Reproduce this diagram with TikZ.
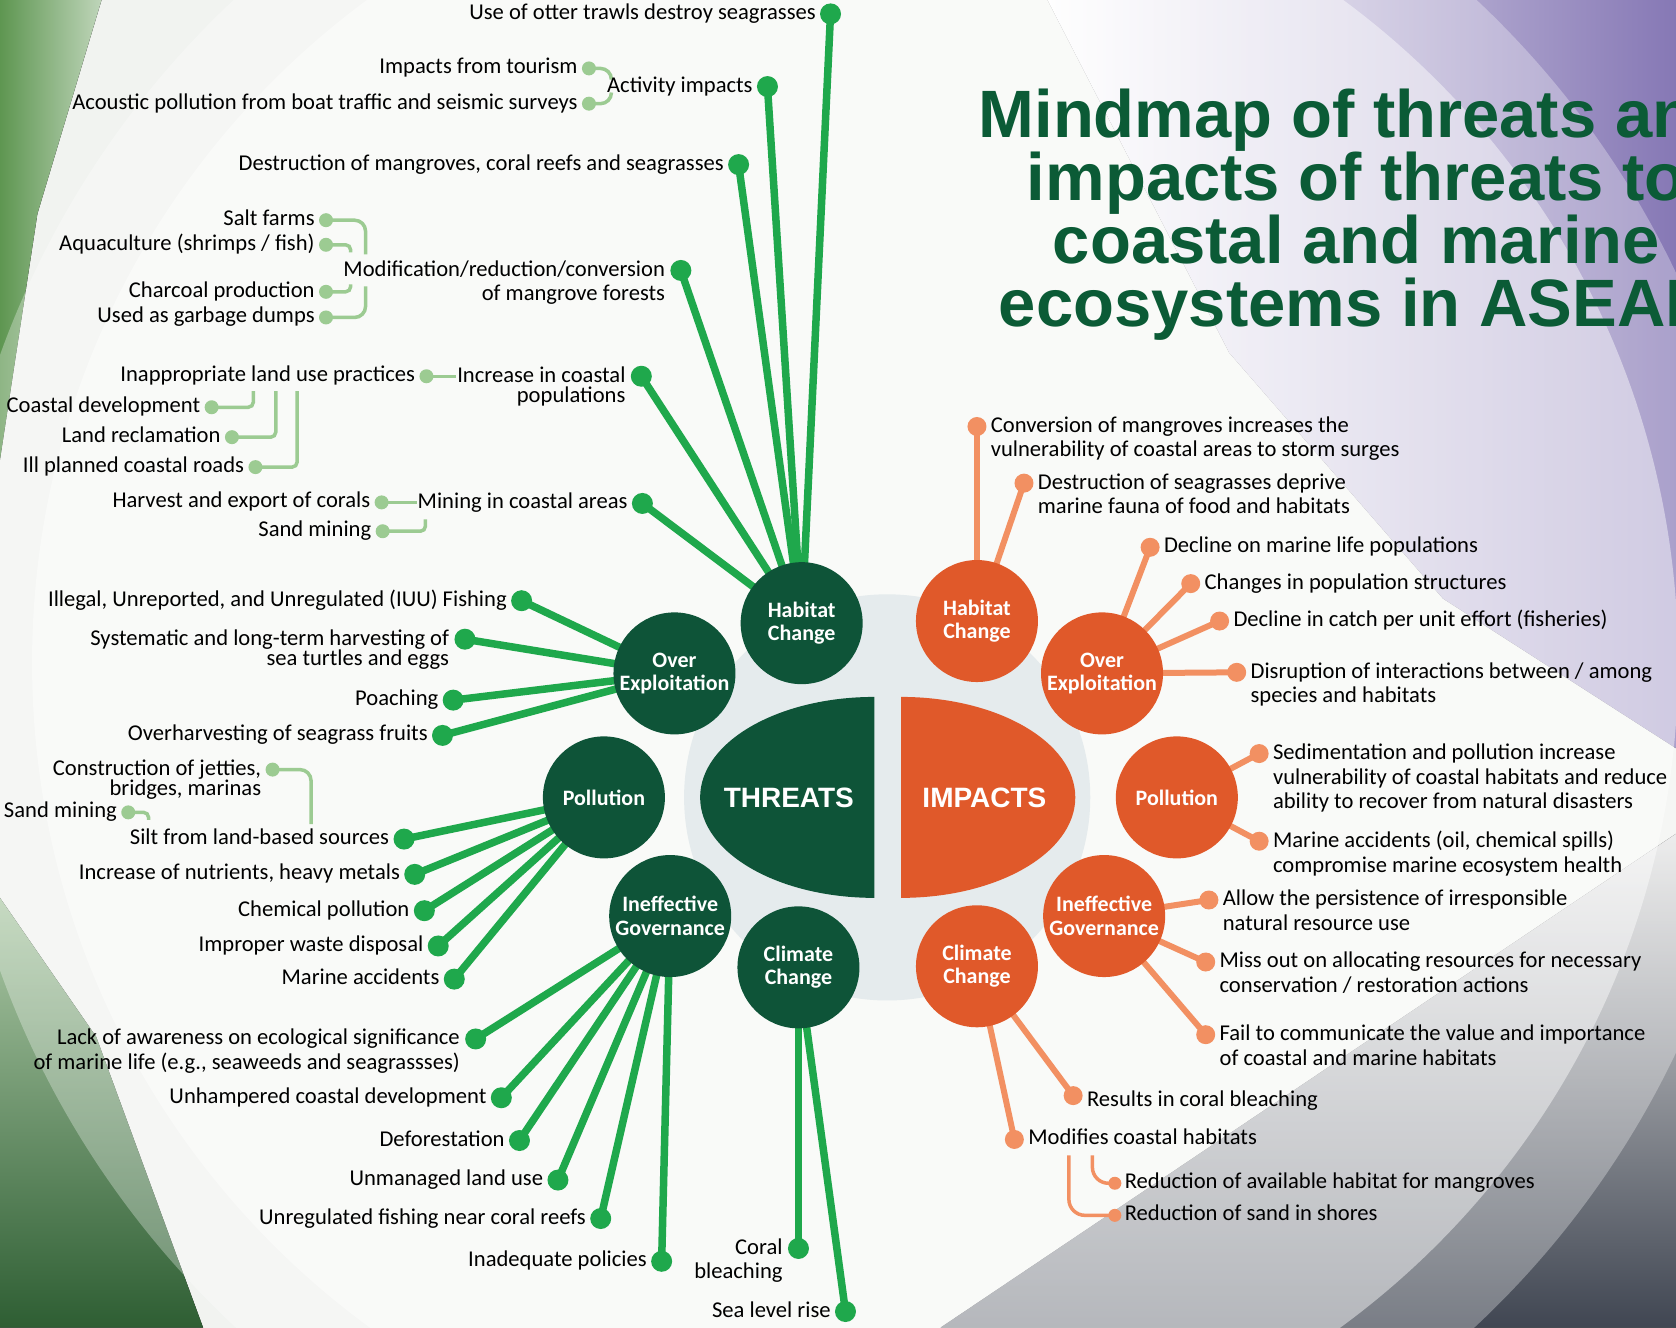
\documentclass[tikz,border=0pt]{standalone}
\usepackage{fontspec}
\setmainfont{Carlito}
\newfontfamily\headfont{Liberation Sans}
\usetikzlibrary{positioning,calc}

\definecolor{tgreen}{HTML}{0E5438}
\definecolor{lgreen}{HTML}{1FA84C}
\definecolor{pgreen}{HTML}{9CCB92}
\definecolor{iorange}{HTML}{E0592A}
\definecolor{lorange}{HTML}{F29062}
\definecolor{titlegreen}{HTML}{0B5B36}
\definecolor{paperbase}{HTML}{F1F3F0}
\definecolor{discgray}{HTML}{E5EBED}
\definecolor{lilac}{HTML}{8678B5}
\definecolor{slate}{HTML}{404652}
\definecolor{moss}{HTML}{2E5E33}
\definecolor{fern}{HTML}{5E9651}

\pgfdeclarelayer{paper}
\pgfdeclarelayer{links}
\pgfsetlayers{paper,links,main}

\tikzset{
  hub/.style={circle, fill=tgreen, text=white, align=center, minimum size=122pt, inner sep=0pt,
    font=\bfseries\fontsize{22}{23.5}\selectfont},
  ihub/.style={hub, fill=iorange},
  core/.style={text=white, font=\headfont\bfseries\fontsize{28}{30}\selectfont},
  dot/.style={circle, fill=lgreen, minimum size=21pt, inner sep=0pt},
  idot/.style={circle, fill=lorange, minimum size=19pt, inner sep=0pt},
  sdot/.style={circle, fill=pgreen, minimum size=14pt, inner sep=0pt},
  isdot/.style={circle, fill=lorange, minimum size=13pt, inner sep=0pt},
  branch/.style={lgreen, line width=7.5pt},
  ibranch/.style={lorange, line width=6pt},
  twig/.style={pgreen, line width=3.5pt, rounded corners=11pt},
  hook/.style={pgreen, line width=3.5pt, rounded corners=5pt},
  itwig/.style={lorange, line width=3.5pt, rounded corners=16pt},
  lbl/.style={font=\fontsize{22.6}{24.6}\selectfont, inner sep=1pt, text height=15pt, text depth=4pt},
  lbll/.style={font=\fontsize{22.6}{24.6}\selectfont, inner sep=1pt, align=right, anchor=north east, yshift=11pt},
  lblr/.style={font=\fontsize{22.6}{24.6}\selectfont, inner sep=1pt, align=left, anchor=north west, yshift=11pt},
  tight/.style={font=\fontsize{22.6}{20.4}\selectfont},
  head/.style={text=titlegreen, align=center, font=\headfont\bfseries\fontsize{67}{62.8}\selectfont},
}

\begin{document}
\begin{tikzpicture}[x=1.0689pt, y=-1.0689pt]
  \useasboundingbox (0,0) rectangle (1568,1242);
  \clip (0,0) rectangle (1568,1242);

  % background
  \begin{pgfonlayer}{paper}
    \fill[paperbase] (0,0) rectangle (1568,1242);
    \fill[left color=white, right color=lilac]
      (980,0) -- (1568,0) -- (1568,700) -- (1350,560) -- (1150,330) -- cycle;
    \fill[top color=gray!20, bottom color=slate]
      (1568,780) -- (1568,1242) -- (880,1242) -- cycle;
    \fill[top color=fern!50!white, bottom color=moss]
      (0,840) -- (90,970) -- (190,1242) -- (0,1242) -- cycle;
    \fill[left color=fern, right color=fern!40!white]
      (0,0) -- (95,0) -- (35,200) -- (0,430) -- cycle;
    \fill[white, opacity=0.3] (800,620) circle[radius=850];
    \fill[white, opacity=0.45] (800,620) circle[radius=770];
    \fill[discgray] (830,746) circle[radius=190];
  \end{pgfonlayer}

  \node[head] (title) at (1269,201) {Mindmap of threats and\\impacts of threats to\\coastal and marine\\ecosystems in ASEAN};

  % centre
  \fill[tgreen] (818,652) arc[start angle=-90, end angle=-270, x radius=163, y radius=94] -- cycle;
  \node[core] (threats) at (738,746) {THREATS};
  \fill[iorange] (843,652) arc[start angle=-90, end angle=90, x radius=163, y radius=94] -- cycle;
  \node[core] (impacts) at (921,746) {IMPACTS};

  \node[hub] (hc) at (750,583) {Habitat\\Change};
  \node[hub] (oe) at (631,630) {Over\\Exploitation};
  \node[hub] (po) at (565,746) {Pollution};
  \node[hub] (ig) at (627,857) {Ineffective\\Governance};
  \node[hub] (cc) at (747,905) {Climate\\Change};

  \node[ihub] (ihc) at (914,581) {Habitat\\Change};
  \node[ihub] (ioe) at (1031,630) {Over\\Exploitation};
  \node[ihub] (ipo) at (1101,746) {Pollution};
  \node[ihub] (iig) at (1033,857) {Ineffective\\Governance};
  \node[ihub] (icc) at (914,904) {Climate\\Change};

  % threats: habitat change
  \node[dot] (otter) at (777,13) {};
  \node[lbl, left=3pt of otter] (otterl) {Use of otter trawls destroy seagrasses};
  \node[dot] (act) at (718,81) {};
  \node[lbl, left=3pt of act] (actl) {Activity impacts};
  \node[sdot] (tour) at (551,64) {};
  \node[lbl, left=3pt of tour] (tourl) {Impacts from tourism};
  \node[sdot] (acou) at (551,97) {};
  \node[lbl, left=3pt of acou] (acoul) {Acoustic pollution from boat traffic and seismic surveys};
  \node[dot] (destr) at (691,154) {};
  \node[lbl, left=3pt of destr] (destrl) {Destruction of mangroves, coral reefs and seagrasses};
  \node[dot] (modif) at (637,253) {};
  \node[left=4pt of modif, lbll] (modifl) {Modification/reduction/conversion\\of mangrove forests};
  \node[sdot] (salt) at (305,206) {};
  \node[lbl, left=3pt of salt] (saltl) {Salt farms};
  \node[sdot] (aqua) at (305,229) {};
  \node[lbl, left=3pt of aqua] (aqual) {Aquaculture (shrimps / fish)};
  \node[sdot] (charc) at (305,273) {};
  \node[lbl, left=3pt of charc] (charcl) {Charcoal production};
  \node[sdot] (garb) at (305,297) {};
  \node[lbl, left=3pt of garb] (garbl) {Used as garbage dumps};
  \node[dot] (incpop) at (600,352) {};
  \node[left=4pt of incpop, lbll, tight] (incpopl) {Increase in coastal\\populations};
  \node[sdot] (landuse) at (399,352) {};
  \node[lbl, left=3pt of landuse] (landusel) {Inappropriate land use practices};
  \node[sdot] (coastdev) at (198,381) {};
  \node[lbl, left=3pt of coastdev] (coastdevl) {Coastal development};
  \node[sdot] (reclam) at (217,409) {};
  \node[lbl, left=3pt of reclam] (reclaml) {Land reclamation};
  \node[sdot] (roads) at (239,437) {};
  \node[lbl, left=3pt of roads] (roadsl) {Ill planned coastal roads};
  \node[dot] (mining) at (601,471) {};
  \node[lbl, left=3pt of mining] (miningl) {Mining in coastal areas};
  \node[sdot] (corals) at (357,470) {};
  \node[lbl, left=3pt of corals] (coralsl) {Harvest and export of corals};
  \node[sdot] (sandm) at (358,497) {};
  \node[lbl, left=3pt of sandm] (sandml) {Sand mining};

  % threats: over exploitation
  \node[dot] (iuu) at (488,562) {};
  \node[lbl, left=3pt of iuu] (iuul) {Illegal, Unreported, and Unregulated (IUU) Fishing};
  \node[dot] (turtles) at (435,598) {};
  \node[left=4pt of turtles, lbll, tight] (turtlesl) {Systematic and long-term harvesting of\\sea turtles and eggs};
  \node[dot] (poach) at (424,655) {};
  \node[lbl, left=3pt of poach] (poachl) {Poaching};
  \node[dot] (seafruit) at (414,688) {};
  \node[lbl, left=3pt of seafruit] (seafruitl) {Overharvesting of seagrass fruits};

  % threats: pollution
  \node[sdot] (jetty) at (255,720) {};
  \node[left=3pt of jetty, lbll, tight] (jettyl) {Construction of jetties,\\bridges, marinas};
  \node[sdot] (sandm2) at (120,760) {};
  \node[lbl, left=3pt of sandm2] (sandm2l) {Sand mining};
  \node[dot] (silt) at (378,785) {};
  \node[lbl, left=3pt of silt] (siltl) {Silt from land-based sources};
  \node[dot] (nutri) at (388,818) {};
  \node[lbl, left=3pt of nutri] (nutril) {Increase of nutrients, heavy metals};
  \node[dot] (chem) at (397,852) {};
  \node[lbl, left=3pt of chem] (cheml) {Chemical pollution};
  \node[dot] (waste) at (410,885) {};
  \node[lbl, left=3pt of waste] (wastel) {Improper waste disposal};
  \node[dot] (maracc) at (425,916) {};
  \node[lbl, left=3pt of maracc] (maraccl) {Marine accidents};

  % threats: governance
  \node[dot] (aware) at (445,972) {};
  \node[left=4pt of aware, lbll] (awarel) {Lack of awareness on ecological significance\\of marine life (e.g., seaweeds and seagrassses)};
  \node[dot] (unhamp) at (469,1027) {};
  \node[lbl, left=3pt of unhamp] (unhampl) {Unhampered coastal development};
  \node[dot] (defor) at (486,1067) {};
  \node[lbl, left=3pt of defor] (deforl) {Deforestation};
  \node[dot] (unman) at (522,1104) {};
  \node[lbl, left=3pt of unman] (unmanl) {Unmanaged land use};
  \node[dot] (unreg) at (562,1140) {};
  \node[lbl, left=3pt of unreg] (unregl) {Unregulated fishing near coral reefs};
  \node[dot] (policy) at (619,1180) {};
  \node[lbl, left=3pt of policy] (policyl) {Inadequate policies};

  % threats: climate
  \node[dot] (coral) at (747,1168) {};
  \node[left=4pt of coral, lbll] (corall) {Coral\\bleaching};
  \node[dot] (sealvl) at (791,1227) {};
  \node[lbl, left=3pt of sealvl] (sealvll) {Sea level rise};

  % impacts
  \node[idot] (conv) at (914,399) {};
  \node[right=3pt of conv, lblr] (convl) {Conversion of mangroves increases the\\vulnerability of coastal areas to storm surges};
  \node[idot] (seag) at (958,452) {};
  \node[right=3pt of seag, lblr] (seagl) {Destruction of seagrasses deprive\\marine fauna of food and habitats};
  \node[idot] (decl) at (1076,512) {};
  \node[lbl, right=3pt of decl] (decll) {Decline on marine life populations};
  \node[idot] (chg) at (1114,546) {};
  \node[lbl, right=3pt of chg] (chgl) {Changes in population structures};
  \node[idot] (cpue) at (1141,581) {};
  \node[lbl, right=3pt of cpue] (cpuel) {Decline in catch per unit effort (fisheries)};
  \node[idot] (disr) at (1157,629) {};
  \node[right=3pt of disr, lblr] (disrl) {Disruption of interactions between / among\\species and habitats};
  \node[idot] (sedi) at (1178,705) {};
  \node[right=3pt of sedi, lblr] (sedil) {Sedimentation and pollution increase\\vulnerability of coastal habitats and reduce\\ability to recover from natural disasters};
  \node[idot] (spill) at (1178,787) {};
  \node[right=3pt of spill, lblr] (spilll) {Marine accidents (oil, chemical spills)\\compromise marine ecosystem health};
  \node[idot] (persist) at (1131,842) {};
  \node[right=3pt of persist, lblr] (persistl) {Allow the persistence of irresponsible\\natural resource use};
  \node[idot] (alloc) at (1128,900) {};
  \node[right=3pt of alloc, lblr] (allocl) {Miss out on allocating resources for necessary\\conservation / restoration actions};
  \node[idot] (comm) at (1128,968) {};
  \node[right=3pt of comm, lblr] (comml) {Fail to communicate the value and importance\\of coastal and marine habitats};
  \node[idot] (bleach) at (1004,1025) {};
  \node[lbl, right=3pt of bleach, yshift=-5pt] (bleachl) {Results in coral bleaching};
  \node[idot] (modh) at (949,1066) {};
  \node[lbl, right=3pt of modh] (modhl) {Modifies coastal habitats};
  \node[isdot] (redm) at (1043,1107) {};
  \node[lbl, right=2pt of redm] (redml) {Reduction of available habitat for mangroves};
  \node[isdot] (reds) at (1043,1137) {};
  \node[lbl, right=2pt of reds] (redsl) {Reduction of sand in shores};

  \coordinate (tk1) at (572,74);
  \coordinate (tk2) at (572,88);
  \coordinate (tk3) at (342,238);
  \coordinate (tk4) at (328,236);
  \coordinate (tk5) at (328,266);
  \coordinate (tk6) at (342,268);
  \coordinate (tk7) at (237,366);
  \coordinate (tk8) at (258,366);
  \coordinate (tk9) at (278,366);
  \coordinate (tk10) at (398,486);
  \coordinate (tk11) at (291,771);
  \coordinate (tk12) at (139,767);
  \coordinate (mk1) at (1000,1081);
  \coordinate (mk2) at (1022,1081);

  \begin{pgfonlayer}{links}
    \draw[branch] (hc.center) -- (otter.center);
    \draw[branch] (hc.center) -- (act.center);
    \draw[branch] (hc.center) -- (destr.center);
    \draw[branch] (hc.center) -- (modif.center);
    \draw[branch] (hc.center) -- (incpop.center);
    \draw[branch] (hc.center) -- (mining.center);
    \draw[branch] (oe.center) -- (iuu.center);
    \draw[branch] (oe.center) -- (turtles.center);
    \draw[branch] (oe.center) -- (poach.center);
    \draw[branch] (oe.center) -- (seafruit.center);
    \draw[branch] (po.center) -- (silt.center);
    \draw[branch] (po.center) -- (nutri.center);
    \draw[branch] (po.center) -- (chem.center);
    \draw[branch] (po.center) -- (waste.center);
    \draw[branch] (po.center) -- (maracc.center);
    \draw[branch] (ig.center) -- (aware.center);
    \draw[branch] (ig.center) -- (unhamp.center);
    \draw[branch] (ig.center) -- (defor.center);
    \draw[branch] (ig.center) -- (unman.center);
    \draw[branch] (ig.center) -- (unreg.center);
    \draw[branch] (ig.center) -- (policy.center);
    \draw[branch] (cc.center) -- (coral.center);
    \draw[branch] (cc.center) -- (sealvl.center);

    \draw[twig] (tour.center) -| (tk1);
    \draw[twig] (acou.center) -| (tk2);
    \draw[twig] (salt.center) -| (tk3);
    \draw[hook] (aqua.center) -| (tk4);
    \draw[hook] (charc.center) -| (tk5);
    \draw[twig] (garb.center) -| (tk6);
    \draw[twig] (landuse.center) -- (landuse -| incpopl.west);
    \draw[hook] (coastdev.center) -| (tk7);
    \draw[hook] (reclam.center) -| (tk8);
    \draw[hook] (roads.center) -| (tk9);
    \draw[twig] (corals.center) -- (corals -| miningl.west);
    \draw[hook] (sandm.center) -| (tk10);
    \draw[twig] (jetty.center) -| (tk11);
    \draw[hook] (sandm2.center) -| (tk12);

    \draw[ibranch] (ihc.center) -- (conv.center);
    \draw[ibranch] (ihc.center) -- (seag.center);
    \draw[ibranch] (ioe.center) -- (decl.center);
    \draw[ibranch] (ioe.center) -- (chg.center);
    \draw[ibranch] (ioe.center) -- (cpue.center);
    \draw[ibranch] (ioe.center) -- (disr.center);
    \draw[ibranch] (ipo.center) -- (sedi.center);
    \draw[ibranch] (ipo.center) -- (spill.center);
    \draw[ibranch] (iig.center) -- (persist.center);
    \draw[ibranch] (iig.center) -- (alloc.center);
    \draw[ibranch] (iig.center) -- (comm.center);
    \draw[ibranch] (icc.center) -- (bleach.center);
    \draw[ibranch] (icc.center) -- (modh.center);
    \draw[itwig] (mk1) |- (reds.center);
    \draw[itwig] (mk2) |- (redm.center);
  \end{pgfonlayer}
\end{tikzpicture}
\end{document}
